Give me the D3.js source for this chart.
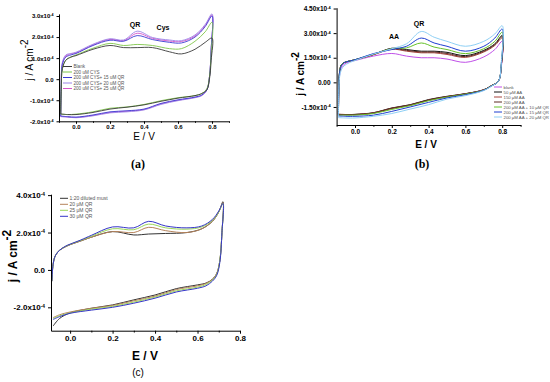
<!DOCTYPE html>
<html>
<head>
<meta charset="utf-8">
<script src="https://cdnjs.cloudflare.com/ajax/libs/d3/7.8.5/d3.min.js"></script>
<style>
  body { margin: 0; background: #fff; }
  svg { display: block; }
</style>
</head>
<body>
<div id="chart"></div>
<script>
// ---- panel (a) : CYS + QR ----
const aNames = ['Blank', '200 uM CYS', '200 uM CYS+ 15 uM QR', '200 uM CYS+ 20 uM QR', '200 uM CYS+ 25 uM QR'];
const aPotUp = [-0.09, -0.087, -0.08, -0.06, -0.03, 0.0, 0.1, 0.2, 0.28, 0.36, 0.45, 0.55, 0.62, 0.7, 0.76, 0.8];
const aPotDown = [0.795, 0.785, 0.77, 0.74, 0.7, 0.6, 0.5, 0.4, 0.3, 0.2, 0.1, 0.0, -0.05, -0.09];
const aBlankUp = [-1.65, -0.5, 0.5, 0.9, 1.05, 1.12, 1.42, 1.6, 1.5, 1.5, 1.5, 1.3, 1.2, 1.42, 1.75, 1.95];
const aBlankDown = [0.9, 0.0, -0.5, -0.68, -0.78, -0.9, -1.05, -1.22, -1.33, -1.42, -1.58, -1.68, -1.68, -1.65];
const aCysUp = [-1.66, -0.5, 0.5, 0.9, 1.05, 1.15, 1.47, 1.7, 1.6, 1.65, 1.6, 1.45, 1.45, 1.8, 2.25, 2.7];
const aCysDown = [1.2, 0.1, -0.45, -0.68, -0.78, -0.88, -1.02, -1.2, -1.32, -1.38, -1.55, -1.66, -1.68, -1.66];
const aQr15Up = [-1.75, -0.4, 0.7, 1.05, 1.15, 1.22, 1.6, 1.85, 1.8, 2.07, 1.88, 1.75, 1.72, 2.0, 2.5, 3.0];
const aQr15Down = [1.4, 0.1, -0.5, -0.75, -0.85, -0.98, -1.15, -1.42, -1.5, -1.55, -1.7, -1.8, -1.78, -1.75];
const aQr20Up = [-1.78, -0.4, 0.8, 1.15, 1.22, 1.28, 1.66, 1.92, 1.86, 2.28, 1.98, 1.86, 1.83, 2.1, 2.6, 3.1];
const aQr20Down = [1.4, 0.1, -0.5, -0.78, -0.88, -1.02, -1.2, -1.46, -1.55, -1.6, -1.74, -1.83, -1.8, -1.78];
const aQr25Up = [-1.77, -0.4, 0.75, 1.1, 1.2, 1.25, 1.63, 1.89, 1.83, 2.18, 1.94, 1.81, 1.79, 2.05, 2.55, 3.05];
const aQr25Down = [1.4, 0.1, -0.5, -0.76, -0.86, -1.0, -1.17, -1.44, -1.52, -1.58, -1.72, -1.82, -1.79, -1.77];

// ---- panel (b) : AA + QR ----
const bNames = ['blank', '50 \u03bcM AA', '150 \u03bcM AA', '200 \u03bcM AA', '200 \u03bcM AA + 10 \u03bcM QR', '200 \u03bcM AA + 15 \u03bcM QR', '200 \u03bcM AA + 20 \u03bcM QR'];
const bPotUp = [-0.09, -0.088, -0.084, -0.075, -0.06, -0.03, 0.0, 0.1, 0.2, 0.28, 0.36, 0.43, 0.5, 0.6, 0.7, 0.76, 0.8];
const bPotDown = [0.795, 0.785, 0.77, 0.75, 0.7, 0.6, 0.5, 0.4, 0.3, 0.2, 0.1, 0.0, -0.05, -0.09];
const bBlankUp = [-1.95, -0.5, 0.4, 0.85, 1.1, 1.25, 1.33, 1.6, 1.76, 1.6, 1.5, 1.5, 1.42, 1.22, 1.55, 2.0, 2.5];
const bBlankDown = [0.9, 0.2, -0.05, -0.15, -0.45, -0.7, -0.88, -1.1, -1.4, -1.6, -1.88, -1.97, -1.97, -1.95];
const bAa50Up = [-1.97, -0.4, 0.6, 1.05, 1.2, 1.3, 1.38, 1.7, 2.08, 2.0, 1.9, 1.9, 1.83, 1.63, 1.95, 2.35, 2.85];
const bAa50Down = [1.0, 0.2, -0.05, -0.15, -0.45, -0.69, -0.85, -1.05, -1.36, -1.56, -1.85, -1.95, -1.97, -1.97];
const bAa150Up = [-1.95, -0.4, 0.6, 1.05, 1.2, 1.3, 1.37, 1.68, 2.02, 1.9, 1.8, 1.8, 1.7, 1.52, 1.85, 2.25, 2.7];
const bAa150Down = [1.0, 0.2, -0.05, -0.15, -0.45, -0.7, -0.87, -1.08, -1.38, -1.58, -1.86, -1.96, -1.96, -1.95];
const bAa200Up = [-1.95, -0.4, 0.6, 1.05, 1.2, 1.3, 1.37, 1.7, 2.05, 1.95, 1.85, 1.85, 1.76, 1.57, 1.9, 2.3, 2.78];
const bAa200Down = [1.0, 0.2, -0.05, -0.15, -0.46, -0.7, -0.87, -1.07, -1.38, -1.58, -1.87, -1.96, -1.96, -1.95];
const bQr10Up = [-2.0, -0.4, 0.6, 1.05, 1.2, 1.3, 1.38, 1.72, 2.05, 2.1, 2.4, 2.15, 2.0, 1.75, 2.05, 2.5, 3.05];
const bQr10Down = [1.1, 0.2, -0.05, -0.16, -0.47, -0.72, -0.9, -1.12, -1.42, -1.65, -1.9, -2.0, -2.0, -2.0];
const bQr15Up = [-2.05, -0.4, 0.6, 1.0, 1.2, 1.3, 1.38, 1.75, 2.0, 2.2, 2.7, 2.4, 2.2, 1.9, 2.2, 2.7, 3.25];
const bQr15Down = [1.1, 0.2, -0.05, -0.17, -0.48, -0.76, -0.95, -1.22, -1.5, -1.77, -2.0, -2.07, -2.07, -2.05];
const bQr20Up = [-2.15, -0.6, 0.3, 0.75, 1.0, 1.2, 1.33, 1.72, 2.05, 2.35, 3.1, 2.75, 2.5, 2.2, 2.5, 2.95, 3.45];
const bQr20Down = [1.2, 0.2, -0.05, -0.18, -0.5, -0.81, -1.02, -1.36, -1.63, -1.9, -2.07, -2.17, -2.17, -2.15];

// ---- panel (c) : diluted must + QR ----
const cNames = ['1:20 diluted must', '20 \u03bcM QR', '25 \u03bcM QR', '30 \u03bcM QR'];
const cPotUp = [-0.086, -0.08, -0.07, -0.05, -0.02, 0.0, 0.05, 0.1, 0.2, 0.3, 0.37, 0.45, 0.55, 0.62, 0.67, 0.7, 0.72];
const cPotDown = [0.715, 0.705, 0.69, 0.67, 0.64, 0.6, 0.5, 0.4, 0.3, 0.2, 0.1, 0.0, -0.05, -0.08];
const cMustUp = [-0.6, 0.3, 0.75, 1.05, 1.25, 1.35, 1.55, 1.75, 2.05, 1.87, 1.92, 1.95, 2.0, 2.2, 2.6, 3.1, 3.65];
const cMustDown = [2.0, 0.5, -0.2, -0.5, -0.7, -0.8, -1.0, -1.34, -1.6, -1.87, -2.05, -2.3, -2.6, -3.0];
const cQr20Up = [-0.6, 0.3, 0.75, 1.05, 1.25, 1.35, 1.55, 1.75, 2.05, 2.0, 2.28, 2.1, 2.0, 2.2, 2.6, 3.1, 3.6];
const cQr20Down = [2.0, 0.5, -0.2, -0.5, -0.72, -0.85, -1.05, -1.4, -1.65, -1.9, -2.05, -2.25, -2.4, -2.55];
const cQr25Up = [-0.6, 0.3, 0.75, 1.05, 1.27, 1.37, 1.58, 1.8, 2.2, 2.15, 2.45, 2.25, 2.18, 2.3, 2.65, 3.1, 3.55];
const cQr25Down = [2.0, 0.5, -0.25, -0.55, -0.78, -0.92, -1.12, -1.45, -1.72, -1.95, -2.1, -2.3, -2.45, -2.6];
const cQr30Up = [-0.6, 0.3, 0.75, 1.05, 1.28, 1.38, 1.6, 1.85, 2.3, 2.25, 2.6, 2.35, 2.25, 2.35, 2.7, 3.15, 3.55];
const cQr30Down = [2.0, 0.4, -0.3, -0.6, -0.85, -0.98, -1.18, -1.51, -1.78, -2.0, -2.15, -2.32, -2.5, -2.65];

const xMajor = [0.0, 0.2, 0.4, 0.6, 0.8];

let svg = d3.select('#chart')
        .append('svg')
        .attr('width', 550)
        .attr('height', 382)
        .style('font-family', '"Liberation Sans", Arial, sans-serif');

// closed CV loop: forward scan then reverse scan
function loop(eUp, jUp, eDown, jDown) {
  let pts = eUp.map(function(e, i) { return [e, jUp[i]]; });
  return pts.concat(eDown.map(function(e, i) { return [e, jDown[i]]; }));
}

function drawPanel(p) {
  let x = d3.scaleLinear().domain(p.xDomain).range(p.xRange);
  let y = d3.scaleLinear().domain(p.yDomain).range(p.yRange);
  let g = svg.append('g');

  let line = d3.line()
          .x(function(d) { return x(d[0]); })
          .y(function(d) { return y(d[1]); })
          .curve(d3.curveCatmullRom.alpha(0.5));

  // draw order can differ from legend order
  let order = p.drawOrder || p.series.map(function(s, i) { return i; });
  g.selectAll('.cv')
          .data(order.map(function(i) { return p.series[i]; }))
          .enter().append('path')
          .attr('class', 'cv')
          .attr('d', function(s) { return line(loop(p.eUp, s.up, p.eDown, s.down)); })
          .attr('fill', 'none')
          .attr('stroke', function(s) { return s.color; })
          .attr('stroke-width', p.lw);

  // x axis, major + minor ticks
  let xg = g.append('g')
          .attr('transform', 'translate(0,' + p.yRange[0] + ')')
          .call(d3.axisBottom(x).tickValues(xMajor).tickSize(p.tick).tickSizeOuter(0)
                  .tickFormat(function(d) { return d.toFixed(1); }));
  g.append('g')
          .attr('transform', 'translate(0,' + p.yRange[0] + ')')
          .call(d3.axisBottom(x).tickValues(p.xMinor).tickSize(p.tick * 0.6).tickFormat(''))
          .select('.domain').remove();

  let yg = g.append('g')
          .attr('transform', 'translate(' + p.xRange[0] + ',0)')
          .call(d3.axisLeft(y).tickValues(p.yTicks).tickSize(p.tick).tickSizeOuter(0));

  [xg, yg].forEach(function(a) {
    a.selectAll('path, line').attr('stroke', '#000');
    a.selectAll('text')
            .attr('font-size', p.tickFont)
            .attr('font-weight', 'bold')
            .attr('fill', '#000')
            .attr('font-family', '"Liberation Sans", Arial, sans-serif');
  });
  xg.selectAll('text').attr('dy', null).attr('y', p.tick + p.tickFont * 0.95);

  yg.selectAll('.tick text').each(function(d) {
    let t = d3.select(this).text(null);
    if (d === 0) { t.text(d.toFixed(p.yDec)); return; }
    t.append('tspan').text(d.toFixed(p.yDec) + 'x10');
    t.append('tspan').attr('dy', '-0.55em').attr('font-size', '0.6em').text('-4');
  });

  // axis titles
  let yl = g.append('text')
          .attr('transform', 'translate(' + p.yLab[0] + ',' + p.yLab[1] + ') rotate(-90)')
          .attr('text-anchor', 'middle')
          .attr('font-size', p.labFont)
          .attr('font-weight', p.labWeight);
  yl.append('tspan').text('j / A cm');
  yl.append('tspan').attr('dy', '-0.5em').text('-2');

  g.append('text')
          .attr('x', p.xLab[0]).attr('y', p.xLab[1])
          .attr('text-anchor', 'middle')
          .attr('font-size', p.labFont)
          .attr('font-weight', p.labWeight)
          .text('E / V');

  g.append('text')
          .attr('x', p.tag[0]).attr('y', p.tag[1])
          .attr('text-anchor', 'middle')
          .attr('font-size', p.tagFont)
          .attr('font-weight', p.tagWeight)
          .attr('font-family', p.tagFamily)
          .text(p.tagText);

  g.selectAll('.note')
          .data(p.notes)
          .enter().append('text')
          .attr('x', function(d) { return d[1]; })
          .attr('y', function(d) { return d[2]; })
          .attr('text-anchor', 'middle')
          .attr('font-size', 7)
          .attr('font-weight', 'bold')
          .text(function(d) { return d[0]; });

  // legend
  let lg = g.selectAll('.leg')
          .data(p.series)
          .enter().append('g')
          .attr('transform', function(d, i) { return 'translate(' + p.leg[0] + ',' + (p.leg[1] + i * p.leg[2]) + ')'; });
  lg.append('line')
          .attr('x1', 0).attr('x2', p.leg[3])
          .attr('stroke', function(d) { return d.color; })
          .attr('stroke-width', 1);
  lg.append('text')
          .attr('x', p.leg[3] + 1.5)
          .attr('dy', '0.35em')
          .attr('font-size', p.legFont)
          .attr('fill', '#555')
          .text(function(d) { return d.name; });
}

drawPanel({
  xDomain: [-0.1, 0.9], xRange: [59, 229],
  yDomain: [-2, 3.1], yRange: [121.3, 13.9],
  yTicks: [-2, -1, 0, 1, 2, 3], yDec: 1,
  xMinor: [-0.1, 0.1, 0.3, 0.5, 0.7, 0.9],
  tick: 2.5, tickFont: 6, lw: 0.9,
  labFont: 10, labWeight: 'normal', yLab: [33, 60], xLab: [144, 140],
  tag: [138, 168], tagText: '(a)', tagFont: 12, tagWeight: 'bold', tagFamily: '"Liberation Serif", serif',
  notes: [['QR', 135, 27], ['Cys', 163, 30]],
  leg: [63, 66.5, 5.5, 9], legFont: 4.6,
  eUp: aPotUp, eDown: aPotDown,
  drawOrder: [4, 3, 2, 1, 0],
  series: [
    { name: aNames[0], color: '#3a3a3a', up: aBlankUp, down: aBlankDown },
    { name: aNames[1], color: '#7fc64a', up: aCysUp, down: aCysDown },
    { name: aNames[2], color: '#3b3bd4', up: aQr15Up, down: aQr15Down },
    { name: aNames[3], color: '#9c84e8', up: aQr20Up, down: aQr20Down },
    { name: aNames[4], color: '#d655c8', up: aQr25Up, down: aQr25Down }
  ]
});

drawPanel({
  xDomain: [-0.1, 0.9], xRange: [336.6, 520.6],
  yDomain: [-2.6, 4.55], yRange: [125, 7.7],
  yTicks: [-1.5, 0, 1.5, 3, 4.5], yDec: 2,
  xMinor: [-0.1, 0.1, 0.3, 0.5, 0.7, 0.9],
  tick: 3, tickFont: 6.5, lw: 1,
  labFont: 10, labWeight: 'bold', yLab: [304, 74], xLab: [426, 148],
  tag: [422, 168], tagText: '(b)', tagFont: 12, tagWeight: 'bold', tagFamily: '"Liberation Serif", serif',
  notes: [['AA', 394, 39], ['QR', 419, 26]],
  leg: [494, 87, 5, 8], legFont: 4.3,
  eUp: bPotUp, eDown: bPotDown,
  series: [
    { name: bNames[0], color: '#c050e8', up: bBlankUp, down: bBlankDown },
    { name: bNames[1], color: '#111111', up: bAa50Up, down: bAa50Down },
    { name: bNames[2], color: '#a8443c', up: bAa150Up, down: bAa150Down },
    { name: bNames[3], color: '#5c2a22', up: bAa200Up, down: bAa200Down },
    { name: bNames[4], color: '#66c22a', up: bQr10Up, down: bQr10Down },
    { name: bNames[5], color: '#1f3fd0', up: bQr15Up, down: bQr15Down },
    { name: bNames[6], color: '#8fd0f5', up: bQr20Up, down: bQr20Down }
  ]
});

drawPanel({
  xDomain: [-0.09, 0.8], xRange: [51, 240],
  yDomain: [-3.25, 4.05], yRange: [330.7, 194.2],
  yTicks: [-2, 0, 2, 4], yDec: 1,
  xMinor: [0.1, 0.3, 0.5, 0.7],
  tick: 3, tickFont: 8, lw: 1,
  labFont: 12, labWeight: 'bold', yLab: [17, 256], xLab: [145, 360],
  tag: [138, 376], tagText: '(c)', tagFont: 10, tagWeight: 'normal', tagFamily: '"Liberation Sans", Arial, sans-serif',
  notes: [],
  leg: [60, 198.3, 6, 8], legFont: 5,
  eUp: cPotUp, eDown: cPotDown,
  series: [
    { name: cNames[0], color: '#333333', up: cMustUp, down: cMustDown },
    { name: cNames[1], color: '#b5825a', up: cQr20Up, down: cQr20Down },
    { name: cNames[2], color: '#9cd65a', up: cQr25Up, down: cQr25Down },
    { name: cNames[3], color: '#3535c8', up: cQr30Up, down: cQr30Down }
  ]
});
</script>
</body>
</html>
